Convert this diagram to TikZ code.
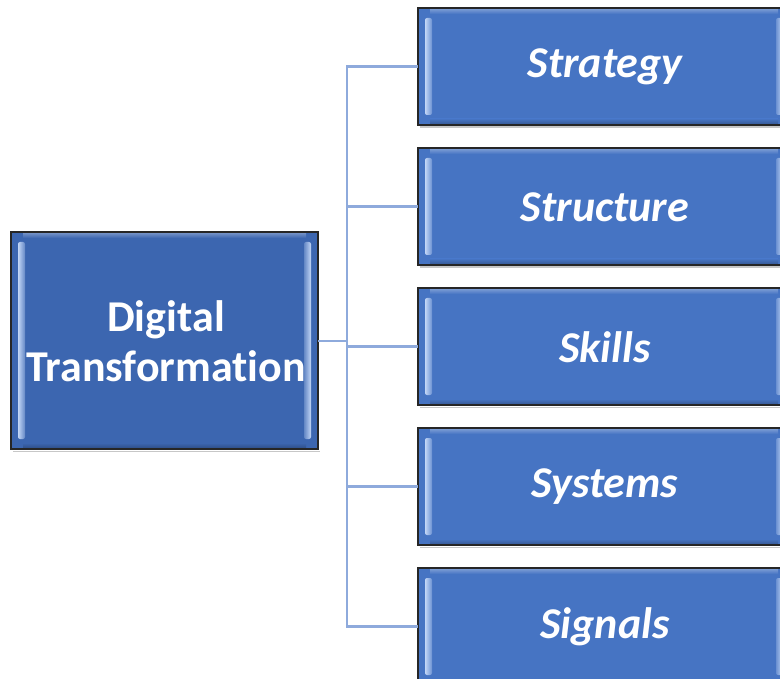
\documentclass[tikz,border=0pt]{standalone}
\usepackage{fontspec}
\setmainfont{Carlito}[Ligatures=NoCommon]
\usetikzlibrary{calc}
\definecolor{mainblue}{HTML}{3C66B0}
\definecolor{itemblue}{HTML}{4674C3}
\definecolor{linkblue}{HTML}{8EAADC}
\definecolor{glint}{HTML}{C2D6F6}
\tikzset{
  x=1pt, y=-1pt,
  box/.style={draw=black!85, line width=1.6pt, inner sep=0pt, outer sep=0pt},
  hubbox/.style={box, fill=mainblue, minimum width=307pt, minimum height=217pt},
  itembox/.style={box, fill=itemblue, minimum width=372pt, minimum height=117pt},
  hublabel/.style={text=white, align=center, font=\fontsize{44}{50}\selectfont\bfseries},
  itemlabel/.style={text=white, font=\fontsize{44}{48}\selectfont\bfseries\itshape},
  link/.style={draw=linkblue, line width=2.8pt}
}
% soft bevel: light inner edges on left and right, faint top sheen
\newcommand{\bevel}[2]{%
  \fill[black!22] ($(#1.south west)+(2,1.5)$) rectangle ($(#1.south east)+(2,3)$);
  \shade[left color=glint, right color=#2!70!glint, rounded corners=2pt]
    ($(#1.north west)+(7,10)$) rectangle ($(#1.south west)+(14,-10)$);
  \shade[right color=glint, left color=#2!70!glint, rounded corners=2pt]
    ($(#1.north east)+(-14,10)$) rectangle ($(#1.south east)+(-7,-10)$);
  \shade[top color=#2!75!white, bottom color=#2]
    ($(#1.north west)+(12,1.5)$) rectangle ($(#1.north east)+(-12,6)$);
  \shade[top color=#2, bottom color=#2!80!black]
    ($(#1.south west)+(12,-6)$) rectangle ($(#1.south east)+(-12,-1.5)$);
}
\begin{document}
\begin{tikzpicture}
\useasboundingbox (0,0) rectangle (780,679);
% central hub
\node[hubbox] (hub) at (164.5,340.5) {};
% five branches
\node[itembox, anchor=north west] (s1) at (418,8) {};
\node[itembox, anchor=north west] (s2) at (418,148) {};
\node[itembox, anchor=north west] (s3) at (418,288) {};
\node[itembox, anchor=north west] (s4) at (418,428) {};
\node[itembox, anchor=north west] (s5) at (418,568) {};
% bevel highlights
\bevel{hub}{mainblue}
\foreach \b in {s1,s2,s3,s4,s5} {\bevel{\b}{itemblue}}
% borders on top of highlights
\foreach \b in {hub,s1,s2,s3,s4,s5} {
  \draw[black!85, line width=1.6pt] (\b.north west) rectangle (\b.south east);
}
% labels
\node[hublabel] (hubtext) at (166,341) {Digital\\Transformation};
\node[itemlabel] (t1) at (605,67) {Strategy};
\node[itemlabel] (t2) at (605,207) {Structure};
\node[itemlabel] (t3) at (605,347) {Skills};
\node[itemlabel] (t4) at (605,487) {Systems};
\node[itemlabel] (t5) at (605,627) {Signals};
% connectors
\coordinate (trunk) at (347,341);
\draw[link] (hub.east |- trunk) -- (trunk);
\foreach \b in {s1,s2,s3,s4,s5} {
  \draw[link] (trunk) |- (\b.west);
}
\end{tikzpicture}
\end{document}
